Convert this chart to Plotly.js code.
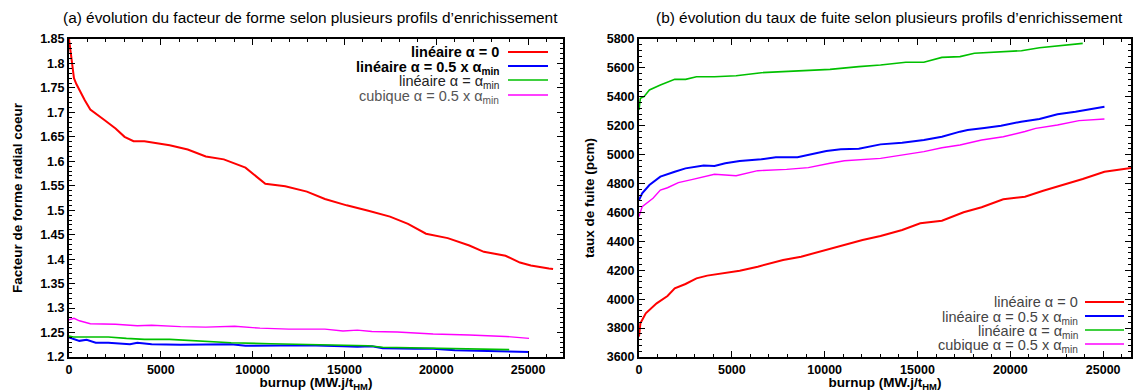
<!DOCTYPE html>
<html>
<head>
<meta charset="utf-8">
<script src="https://cdn.plot.ly/plotly-3.0.1.min.js"></script>
<style>html,body{margin:0;padding:0;background:#fff;}#chart{width:1139px;height:392px;}</style>
</head>
<body>
<div id="chart"></div>
<script>
// ---- data: panel (a) facteur de forme radial coeur ----
const burnupA_red   = [0,100,175,270,400,565,860,1160,1355,1600,1945,2535,3025,3515,4105,5480,6465,7450,8430,9610,10690,11775,12955,13935,15120,16300,17480,18460,19440,20625,21800,22590,23770,24555,25150,26130,26360];
const formeA_red    = [1.85,1.82,1.80,1.77,1.758,1.745,1.725,1.706,1.701,1.694,1.684,1.667,1.650,1.641,1.641,1.633,1.624,1.610,1.604,1.587,1.554,1.549,1.538,1.523,1.510,1.499,1.487,1.472,1.452,1.443,1.428,1.415,1.407,1.393,1.387,1.381,1.380];
const burnupA_blue  = [0,300,565,960,1455,2140,2730,3320,3720,4500,6075,8040,8830,9610,10990,12950,14920,15700,16500,17080,18850,19830,21010,22790,23780,25050];
const formeA_blue   = [1.240,1.236,1.233,1.235,1.229,1.229,1.227,1.226,1.229,1.226,1.225,1.226,1.226,1.223,1.224,1.224,1.222,1.221,1.222,1.218,1.217,1.217,1.214,1.212,1.212,1.210];
const burnupA_green = [0,235,960,2140,3125,4110,5480,7050,8830,10990,12950,15120,16300,17080,18850,19830,21600,22985,23970];
const formeA_green  = [1.243,1.241,1.241,1.241,1.238,1.236,1.236,1.233,1.229,1.227,1.226,1.224,1.223,1.220,1.219,1.218,1.216,1.216,1.215];
const burnupA_mag   = [0,270,565,1160,2535,3720,4500,6075,7450,8430,9020,10400,11970,13935,14920,15700,16490,17870,19830,21800,23770,25050];
const formeA_mag    = [1.276,1.279,1.274,1.268,1.267,1.264,1.265,1.262,1.261,1.263,1.263,1.259,1.257,1.257,1.253,1.255,1.252,1.251,1.247,1.245,1.242,1.238];

// ---- data: panel (b) taux de fuite (pcm) ----
const burnupB_red   = [0,75,365,950,1535,1925,2505,3095,3675,4645,5425,6395,7175,7760,8730,9900,11065,12040,13010,14175,15150,16315,17485,18455,19620,20790,21770,22740,23900,25070,26240,26500];
const fuiteB_red    = [3741,3833,3902,3971,4022,4075,4105,4144,4163,4180,4197,4225,4253,4271,4294,4335,4375,4409,4437,4479,4525,4543,4601,4636,4691,4709,4750,4785,4831,4882,4905,4908];
const burnupB_blue  = [0,170,560,1150,1925,2505,3480,4065,4645,5425,6590,7370,8535,9315,10090,10870,11840,13010,14175,15345,16315,17290,17700,18600,19500,20580,21570,22540,23510,25070];
const fuiteB_blue   = [4686,4733,4790,4848,4882,4905,4924,4921,4940,4956,4968,4982,4982,5004,5025,5037,5041,5071,5083,5101,5124,5159,5170,5185,5200,5228,5247,5279,5297,5332];
const burnupB_green = [0,75,270,560,1150,1925,2510,3095,4065,5230,6590,7950,8930,10290,11840,13010,14370,15340,16315,17290,18065,19230,20600,21570,22540,23900];
const fuiteB_green  = [5309,5390,5401,5447,5482,5521,5521,5539,5539,5546,5567,5574,5579,5590,5609,5620,5639,5639,5673,5678,5701,5708,5719,5740,5754,5770];
const burnupB_mag   = [0,170,755,1150,1535,2120,2895,4065,5230,6395,7950,9120,10290,11065,13010,14175,15345,16315,17290,18455,19620,20790,21370,22540,23700,25070];
const fuiteB_mag    = [4571,4640,4698,4755,4771,4806,4829,4864,4854,4889,4898,4910,4940,4958,4974,4998,5021,5048,5067,5101,5124,5160,5182,5205,5235,5247];

const seriesLabels = ['linéaire α = 0', 'linéaire α = 0.5 x α<sub>min</sub>', 'linéaire α = α<sub>min</sub>', 'cubique α = 0.5 x α<sub>min</sub>'];
const seriesColors = ['#ff0000', '#0000ff', '#00c000', '#ff00ff'];
const seriesWidths = [2, 2, 1.6, 1.4];
const titleA = '(a) évolution du facteur de forme selon plusieurs profils d’enrichissement';
const titleB = '(b) évolution du taux de fuite selon plusieurs profils d’enrichissement';
const xTitle = 'burnup (MW.j/t<sub>HM</sub>)';
const yTitleA = 'Facteur de forme radial coeur';
const yTitleB = 'taux de fuite (pcm)';

// ---- geometry ----
const W = 1139, H = 392;
const L = 69, R = 8, T = 39, B = 35;
const PW = W - L - R, PH = H - T - B;
const px2x = p => (p - L) / PW;
const py2y = p => 1 - (p - T) / PH;

const FONT = '"Liberation Sans", Arial, sans-serif';
const dataA = [[burnupA_red, formeA_red], [burnupA_blue, formeA_blue], [burnupA_green, formeA_green], [burnupA_mag, formeA_mag]];
const dataB = [[burnupB_red, fuiteB_red], [burnupB_blue, fuiteB_blue], [burnupB_green, fuiteB_green], [burnupB_mag, fuiteB_mag]];

const traces = [];
dataA.forEach((d, i) => traces.push({x: d[0], y: d[1], xaxis: 'x', yaxis: 'y', mode: 'lines', name: seriesLabels[i], showlegend: false, line: {color: seriesColors[i], width: seriesWidths[i]}}));
dataB.forEach((d, i) => traces.push({x: d[0], y: d[1], xaxis: 'x2', yaxis: 'y2', mode: 'lines', name: seriesLabels[i], showlegend: false, line: {color: seriesColors[i], width: seriesWidths[i]}}));

const tickFont = {family: FONT, size: 12.5, color: '#000', weight: 'bold'};
const axisTitleFont = {family: FONT, size: 13.5, color: '#000', weight: 'bold'};
function axis(extra) {
  return Object.assign({
    showline: true, linecolor: '#000', linewidth: 2, mirror: 'allticks',
    ticks: 'inside', ticklen: 6, tickwidth: 1, tickcolor: '#000',
    showgrid: false, zeroline: false, tickfont: tickFont, fixedrange: true
  }, extra);
}

const xA0 = px2x(69), xA1 = px2x(563), xB0 = px2x(639), xB1 = 1;

const layout = {
  width: W, height: H,
  margin: {l: L, r: R, t: T, b: B},
  paper_bgcolor: '#fff', plot_bgcolor: '#fff',
  font: {family: FONT, color: '#000'},
  xaxis: axis({domain: [xA0, xA1], range: [0, 26900], dtick: 5000, tick0: 0, anchor: 'y', tickformat: 'd',
    minor: {dtick: 1000, ticks: 'inside', ticklen: 3, tickcolor: '#000'},
    title: {text: xTitle, font: axisTitleFont, standoff: 3}}),
  yaxis: axis({domain: [0, 1], range: [1.2, 1.85], dtick: 0.05, tick0: 1.2, anchor: 'x',
    minor: {dtick: 0.01, ticks: 'inside', ticklen: 3, tickcolor: '#000'},
    title: {text: yTitleA, font: axisTitleFont, standoff: 14}}),
  xaxis2: axis({domain: [xB0, xB1], range: [0, 26500], dtick: 5000, tick0: 0, anchor: 'y2', tickformat: 'd',
    minor: {dtick: 1000, ticks: 'inside', ticklen: 3, tickcolor: '#000'},
    title: {text: xTitle, font: axisTitleFont, standoff: 3}}),
  yaxis2: axis({domain: [0, 1], range: [3600, 5800], dtick: 200, tick0: 3600, anchor: 'x2', tickformat: 'd',
    minor: {dtick: 40, ticks: 'inside', ticklen: 3, tickcolor: '#000'},
    title: {text: yTitleB, font: axisTitleFont, standoff: 9}}),
  annotations: [
    {text: titleA, xref: 'paper', yref: 'paper', x: px2x(310), y: py2y(17), xanchor: 'center', yanchor: 'middle', showarrow: false, font: {family: FONT, size: 15.4, color: '#000'}},
    {text: titleB, xref: 'paper', yref: 'paper', x: px2x(889), y: py2y(17), xanchor: 'center', yanchor: 'middle', showarrow: false, font: {family: FONT, size: 15.4, color: '#000'}}
  ],
  shapes: []
};

// custom gnuplot-style legends (text right-aligned, sample line on the right)
const legA = {textRight: 501, lineX0: 508, lineX1: 548, ys: [52, 66, 80, 95],
  fonts: [{color: '#000', weight: 'bold'}, {color: '#000', weight: 'bold'}, {color: '#222', weight: 'normal'}, {color: '#555', weight: 'normal'}]};
const legB = {textRight: 1080, lineX0: 1085, lineX1: 1124, ys: [302, 316, 330, 344],
  fonts: [{color: '#444', weight: 'normal'}, {color: '#444', weight: 'normal'}, {color: '#444', weight: 'normal'}, {color: '#444', weight: 'normal'}]};
[legA, legB].forEach(lg => {
  seriesLabels.forEach((lab, i) => {
    const hasSub = lab.indexOf('<sub>') >= 0;
    layout.annotations.push({text: lab, xref: 'paper', yref: 'paper', x: px2x(lg.textRight), y: py2y(lg.ys[i] + (hasSub ? 2 : 0)),
      xanchor: 'right', yanchor: 'middle', showarrow: false,
      font: {family: FONT, size: 14.5, color: lg.fonts[i].color, weight: lg.fonts[i].weight}});
    layout.shapes.push({type: 'line', xref: 'paper', yref: 'paper', x0: px2x(lg.lineX0), x1: px2x(lg.lineX1), y0: py2y(lg.ys[i]), y1: py2y(lg.ys[i]),
      line: {color: seriesColors[i], width: seriesWidths[i]}});
  });
});

Plotly.newPlot('chart', traces, layout, {displayModeBar: false, staticPlot: true});
</script>
</body>
</html>
